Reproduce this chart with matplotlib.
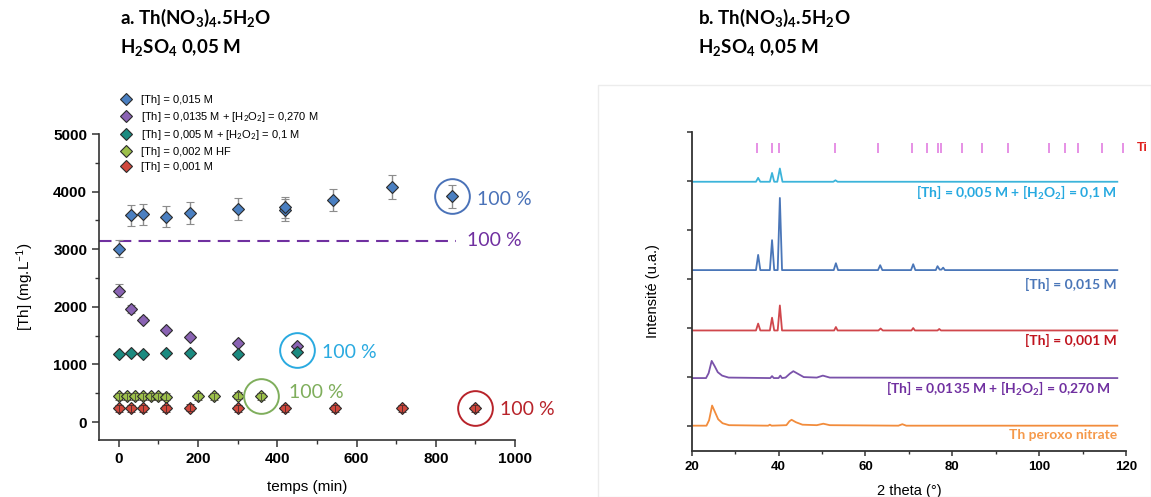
import matplotlib
matplotlib.use("Agg")
import matplotlib.pyplot as plt
from matplotlib.lines import Line2D
from matplotlib.patches import Rectangle
from matplotlib.ticker import MultipleLocator

plt.rcParams['font.family'] = ['Liberation Sans', 'DejaVu Sans']
plt.rcParams['mathtext.fontset'] = 'custom'
plt.rcParams['mathtext.rm'] = 'Lato'
plt.rcParams['mathtext.it'] = 'Lato:italic'
plt.rcParams['mathtext.bf'] = 'Lato:bold'

# ---------------- panel a : [Th] in solution vs time ----------------
th015_t = [0, 30, 60, 120, 180, 300, 420, 420, 540, 690, 840]
th015_v = [3010, 3590, 3605, 3565, 3630, 3705, 3680, 3725, 3855, 4085, 3920]
th015_err = [150, 180, 185, 180, 185, 190, 185, 190, 190, 205, 200]

th0135_t = [0, 30, 60, 120, 180, 300, 450]
th0135_v = [2280, 1960, 1775, 1600, 1475, 1375, 1320]
th0135_err = [115, 65, 40, 35, 30, 30, 30]

th005_t = [0, 30, 60, 120, 180, 300, 450]
th005_v = [1180, 1205, 1185, 1205, 1190, 1185, 1220]

hf_t = [0, 20, 40, 60, 80, 100, 120, 200, 240, 300, 360]
hf_v = [445, 445, 450, 450, 445, 445, 440, 450, 450, 455, 450]

th001_t = [0, 30, 60, 120, 180, 300, 420, 545, 715, 900]
th001_v = [240, 240, 240, 240, 245, 240, 240, 235, 240, 240]

series_labels = [
    "[Th] = 0,015 M",
    "[Th] = 0,0135 M + [H$_2$O$_2$] = 0,270 M",
    "[Th] = 0,005 M + [H$_2$O$_2$] = 0,1 M",
    "[Th] = 0,002 M HF",
    "[Th] = 0,001 M",
]
series_colors = ['#4a7fc1', '#8a63b3', '#1b8a80', '#9cc04a', '#d0473c']

# 100 % dissolution level for the H2O2 series, and the circled end points
full_level = 3150
full_level_end = 852
circle_t = [840, 450, 360, 900]
circle_v = [3920, 1250, 450, 240]
circle_colors = ['#4a72b8', '#2aaae0', '#7fae5c', '#b8232a']
pct_t = [905, 512, 430, 963, 878]
pct_v = [3870, 1200, 505, 225, 3145]
pct_colors = ['#4a72b8', '#2aaae0', '#7fae5c', '#b8232a', '#7030a0']

# ---------------- panel b : XRD patterns ----------------
xrd_005_tt = [20, 34.8, 35.3, 35.8, 38.0, 38.5, 39.0, 39.7, 40.3, 40.9, 52.6, 53.1, 53.6, 118]
xrd_005_i = [4.98, 4.98, 5.06, 4.98, 4.98, 5.16, 4.98, 4.98, 5.25, 4.98, 4.98, 5.01, 4.98, 4.98]

xrd_015_tt = [20, 34.8, 35.3, 35.8, 38.0, 38.5, 39.0, 39.8, 40.3, 40.8, 52.7, 53.2, 53.7,
              62.9, 63.4, 63.9, 70.5, 71.0, 71.5, 76.2, 76.6, 77.1, 77.5, 77.9, 78.3, 118]
xrd_015_i = [3.18, 3.18, 3.49, 3.18, 3.18, 3.79, 3.18, 3.18, 4.65, 3.18, 3.18, 3.32, 3.18,
             3.18, 3.28, 3.18, 3.18, 3.30, 3.18, 3.18, 3.26, 3.19, 3.19, 3.23, 3.18, 3.18]

xrd_001_tt = [20, 34.8, 35.3, 35.8, 38.0, 38.5, 39.0, 39.8, 40.3, 40.8, 52.8, 53.2, 53.6,
              63.0, 63.5, 64.0, 70.6, 71.0, 71.4, 76.6, 77.0, 77.4, 118]
xrd_001_i = [1.95, 1.95, 2.09, 1.95, 1.95, 2.21, 1.95, 1.95, 2.46, 1.95, 1.95, 2.02, 1.95,
             1.95, 1.99, 1.95, 1.95, 2.00, 1.95, 1.95, 1.98, 1.95, 1.95]

xrd_0135_tt = [20, 23.3, 23.9, 24.6, 25.3, 26.0, 27.0, 28.5, 38.1, 38.5, 38.9, 40.0, 40.4, 40.8,
               41.6, 42.6, 43.4, 44.4, 45.8, 48.8, 50.2, 51.8, 118]
xrd_0135_i = [0.98, 0.98, 1.08, 1.33, 1.22, 1.10, 1.03, 0.99, 0.98, 1.02, 0.98, 0.98, 1.03, 0.98,
              0.99, 1.07, 1.12, 1.07, 1.00, 0.99, 1.03, 0.99, 0.98]

xrd_perox_tt = [20, 23.4, 24.0, 24.7, 25.4, 26.1, 27.1, 28.6, 37.6, 38.0, 38.4, 41.8, 42.5, 43.0,
                44.0, 45.5, 48.8, 50.3, 51.8, 67.6, 68.5, 69.4, 118]
xrd_perox_i = [0.01, 0.01, 0.12, 0.42, 0.28, 0.14, 0.06, 0.02, 0.01, 0.03, 0.01, 0.02, 0.10, 0.13,
               0.08, 0.03, 0.02, 0.05, 0.02, 0.01, 0.04, 0.01, 0.01]

ti_tt = [35.0, 38.4, 40.2, 53.0, 62.9, 70.7, 74.1, 76.6, 77.4, 82.2, 86.8, 92.8,
         102.3, 106.0, 109.0, 114.4, 119.2]

xrd_labels = [
    "[Th] = 0,005 M + [H$_\\mathbf{2}$O$_\\mathbf{2}$] = 0,1 M",
    "[Th] = 0,015 M",
    "[Th] = 0,001 M",
    "[Th] = 0,0135 M + [H$_\\mathbf{2}$O$_\\mathbf{2}$] = 0,270 M",
    "Th peroxo nitrate",
]
xrd_line_colors = ['#3cb4da', '#4a76b8', '#d0474c', '#7a52aa', '#f28c3c']
xrd_text_colors = ['#26a9e0', '#4a76b8', '#c0141e', '#7030a0', '#f5994a']
xrd_label_x = [117.9, 117.9, 117.9, 116.5, 117.9]
xrd_label_y = [4.76, 2.89, 1.75, 0.75, -0.19]

W, H = 1151, 497


def px_box(x0, y0, x1, y1):
    return [x0 / W, 1 - y1 / H, (x1 - x0) / W, (y1 - y0) / H]


fig = plt.figure(figsize=(W / 100, H / 100), dpi=100)

# light frame around panel b
fig.add_artist(Rectangle((598 / W, 0), (W - 598) / W, (497 - 85) / H,
                         transform=fig.transFigure, fill=False, ec='#ececec', lw=1))

# titles
title_kw = dict(fontfamily='Lato', fontweight='bold', fontsize=13.5, va='center')
for x0, letter in [(120, 'a.'), (698, 'b.')]:
    fig.text(x0 / W, 1 - 18 / H,
             letter + " Th(NO$_\\mathbf{3}$)$_\\mathbf{4}$.5H$_\\mathbf{2}$O", **title_kw)
    fig.text(x0 / W, 1 - 48 / H, "H$_\\mathbf{2}$SO$_\\mathbf{4}$ 0,05 M", **title_kw)

# ---- panel a
ax1 = fig.add_axes(px_box(99, 134, 515, 440))
edge = '#2b2b2b'
mk = dict(marker='D', ms=5.8, mec=edge, mew=0.8, ls='none')

ax1.errorbar(th015_t, th015_v, yerr=th015_err, color=series_colors[0], ecolor='#8c8c8c',
             elinewidth=1, capsize=3, capthick=1, zorder=3, **mk)
ax1.errorbar(th0135_t, th0135_v, yerr=th0135_err, color=series_colors[1], ecolor='#8c8c8c',
             elinewidth=1, capsize=3, capthick=1, zorder=3, **mk)
ax1.plot(th005_t, th005_v, color=series_colors[2], zorder=4, **mk)
ax1.plot(hf_t, hf_v, color=series_colors[3], zorder=4, **mk)
ax1.errorbar(hf_t, hf_v, yerr=[60] * len(hf_t), fmt='none', ecolor='#4a4a3a',
             elinewidth=0.6, capsize=3, capthick=0.6, zorder=5)
ax1.plot(th001_t, th001_v, color=series_colors[4], zorder=4, **mk)
ax1.errorbar(th001_t, th001_v, yerr=[60] * len(th001_t), fmt='none', ecolor='#4a2a2a',
             elinewidth=0.6, capsize=3, capthick=0.6, zorder=5)

ax1.hlines(full_level, -50, full_level_end, colors='#7030a0', lw=1.5,
           linestyles=(0, (6, 3.5)), zorder=2)

for t, v, c in zip(circle_t, circle_v, circle_colors):
    ax1.plot(t, v, marker='o', ms=25, mfc='none', mec=c, mew=1.4, zorder=6)
for t, v, c in zip(pct_t, pct_v, pct_colors):
    ax1.text(t, v, "100 %", color=c, fontfamily='Lato', fontsize=14, va='center',
             ha='left', clip_on=False)

ax1.set_xlim(-50, 1000)
ax1.set_ylim(-312, 5000)
ax1.set_xticks(range(0, 1001, 200))
ax1.set_yticks(range(0, 5001, 1000))
ax1.xaxis.set_minor_locator(MultipleLocator(100))
ax1.yaxis.set_minor_locator(MultipleLocator(500))
ax1.tick_params(which='major', direction='out', length=5, width=1.1, labelsize=11,
                color='#333333')
ax1.tick_params(which='minor', direction='out', length=3, width=1.0, color='#333333')
for lbl in ax1.get_xticklabels() + ax1.get_yticklabels():
    lbl.set_fontweight('bold')
for s in ['top', 'right']:
    ax1.spines[s].set_visible(False)
for s in ['left', 'bottom']:
    ax1.spines[s].set_color('#333333')
    ax1.spines[s].set_linewidth(1.2)
ax1.set_xlabel("temps (min)", fontsize=11, labelpad=10)
ax1.set_ylabel("[Th] (mg.L$^{-1}$)", fontsize=11)
ax1.yaxis.set_label_coords(-0.155, 0.5)

handles = [Line2D([], [], color=c, **mk) for c in series_colors]
ax1.legend(handles, series_labels, loc='upper left', bbox_to_anchor=(120 / W, 1 - 95 / H),
           bbox_transform=fig.transFigure, frameon=False, fontsize=8,
           handlelength=1.0, handletextpad=0.9, labelspacing=0.42,
           borderpad=0, borderaxespad=0)

# ---- panel b
ax2 = fig.add_axes(px_box(691.7, 131.7, 1126, 450.7))
traces = [(xrd_005_tt, xrd_005_i), (xrd_015_tt, xrd_015_i), (xrd_001_tt, xrd_001_i),
          (xrd_0135_tt, xrd_0135_i), (xrd_perox_tt, xrd_perox_i)]
for (tt, inten), lc, tc, lab, lx, ly in zip(traces, xrd_line_colors, xrd_text_colors,
                                            xrd_labels, xrd_label_x, xrd_label_y):
    ax2.plot(tt, inten, color=lc, lw=1.3)
    ax2.text(lx, ly, lab, color=tc, fontfamily='Lato', fontweight='bold', fontsize=10,
             ha='right', va='center')

ax2.vlines(ti_tt, 5.57, 5.77, colors='#e27ee0', lw=1.2)
ax2.text(122.6, 5.67, "Ti", color='#e0201e', fontweight='bold', fontsize=9,
         va='center', ha='left', clip_on=False)

ax2.set_xlim(20, 120)
ax2.set_ylim(-0.5, 6)
ax2.set_xticks(range(20, 121, 20))
ax2.set_yticks(range(0, 7))
ax2.xaxis.set_minor_locator(MultipleLocator(10))
ax2.tick_params(which='major', direction='out', length=3.5, width=1.1, labelsize=9.5,
                color='#333333', pad=4)
ax2.tick_params(which='minor', direction='out', length=2.5, width=1.0, color='#333333')
ax2.tick_params(axis='y', labelleft=False)
for lbl in ax2.get_xticklabels():
    lbl.set_fontweight('bold')
for s in ['top', 'right']:
    ax2.spines[s].set_visible(False)
for s in ['left', 'bottom']:
    ax2.spines[s].set_color('#333333')
    ax2.spines[s].set_linewidth(1.3)
ax2.set_xlabel("2 theta (°)", fontsize=10.5, labelpad=8)
ax2.set_ylabel("Intensité (u.a.)", fontsize=10.5)
ax2.yaxis.set_label_coords((660 - 691.7) / 434.3, 0.5)

fig.savefig("out.png", dpi=100)
